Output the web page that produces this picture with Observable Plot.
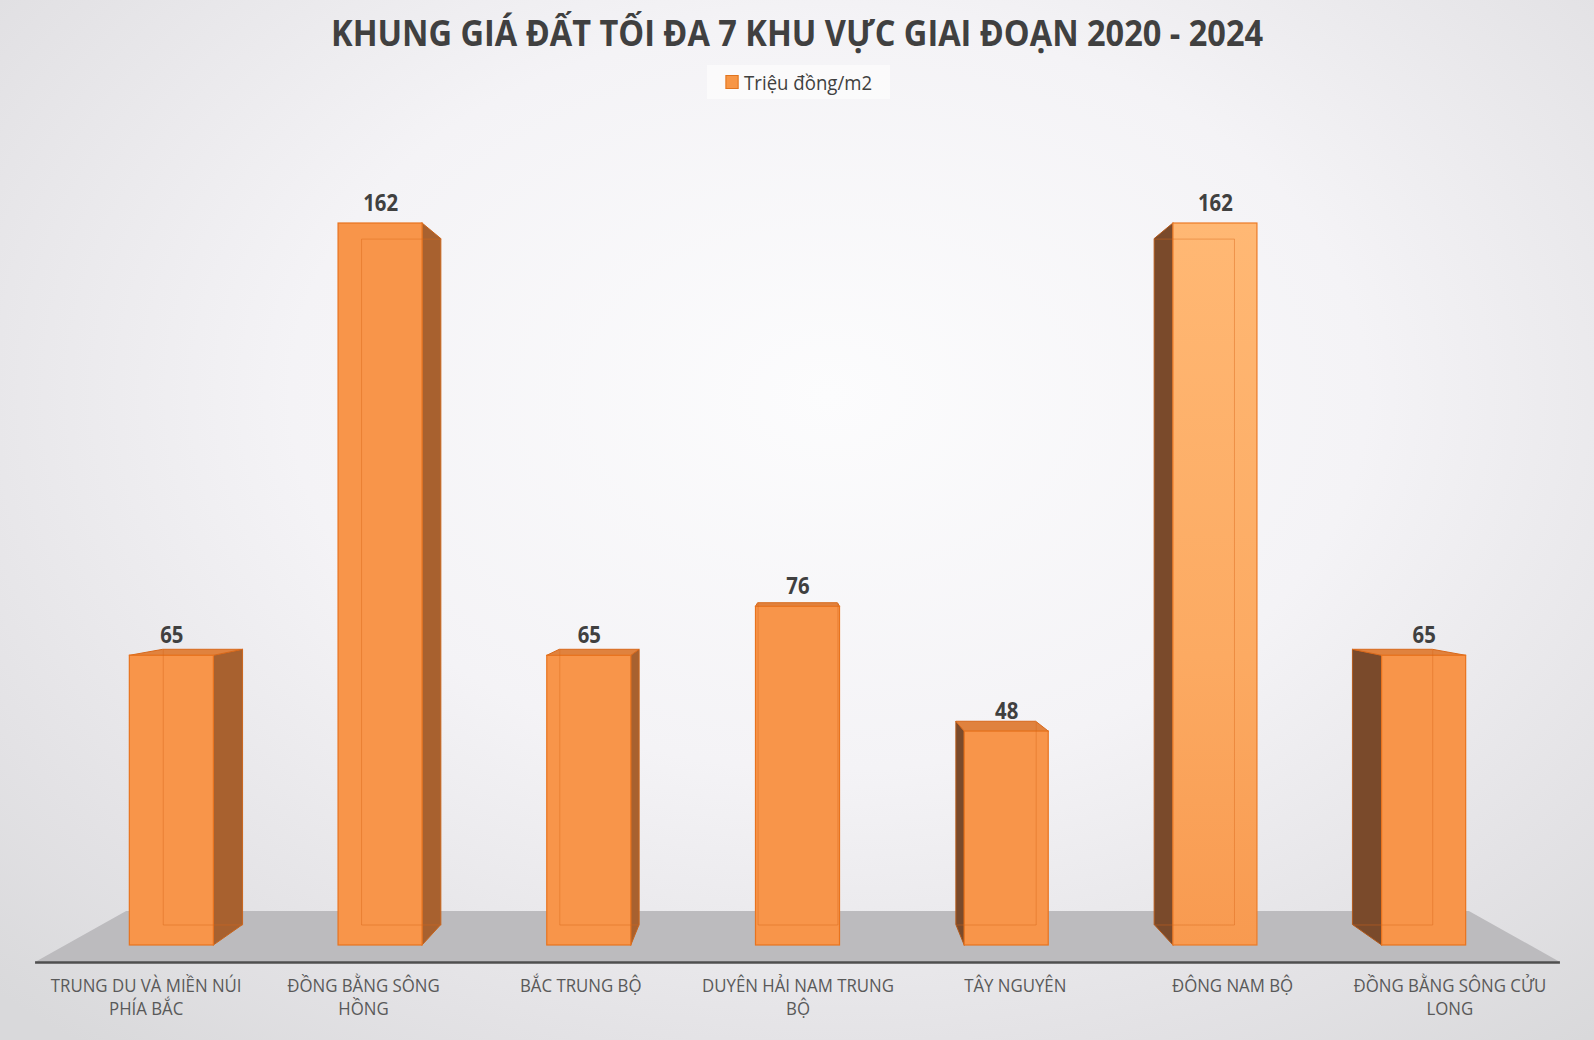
<!DOCTYPE html>
<html lang="vi">
<head>
<meta charset="utf-8">
<script src="https://cdn.jsdelivr.net/npm/d3@7"></script>
<script src="https://cdn.jsdelivr.net/npm/@observablehq/plot@0.6"></script>
<style>
  html, body { margin: 0; padding: 0; width: 1594px; height: 1040px; overflow: hidden; }
  body {
    background: radial-gradient(ellipse 75% 80% at 52% 38%, #fcfcfd 0%, #f4f3f6 45%, #e3e2e5 80%, #d9d9db 100%);
    font-family: "Open Sans", "Noto Sans", sans-serif;
  }
  #header { position: relative; width: 1594px; height: 110px; }
  #title {
    position: absolute; left: 0; top: 11px; width: 100%; text-align: center;
    font-size: 36px; line-height: 44px; font-weight: 700; color: #404040;
    white-space: nowrap;
  }
  #title span { display: inline-block; transform-origin: 50% 50%; }
  #legend {
    position: absolute; left: 707px; top: 65px; width: 183px; height: 34px;
    background: rgba(255,255,255,0.55);
    display: flex; align-items: center; justify-content: center;
  }
  #legend .inner { display: flex; align-items: center; gap: 6px; font-size: 20px; color: #404040; white-space: nowrap; }
  #legend .sw { width: 12px; height: 12px; background: #f79646; border: 1px solid #e0741f; }
  #chart svg { display: block; }
</style>
</head>
<body>
<div id="header">
  <div id="title"><span>KHUNG GIÁ ĐẤT TỐI ĐA 7 KHU VỰC GIAI ĐOẠN 2020 - 2024</span></div>
  <div id="legend"><div class="inner"><span class="sw"></span><span>Triệu đồng/m2</span></div></div>
</div>
<div id="chart"></div>
<script>
// ---- data ----
const categories = [
  "Trung du và miền núi phía Bắc",
  "Đồng bằng sông Hồng",
  "Bắc Trung Bộ",
  "Duyên hải Nam Trung Bộ",
  "Tây Nguyên",
  "Đông Nam Bộ",
  "Đồng bằng sông Cửu Long"
];
const values = [65, 162, 65, 76, 48, 162, 65];
const tickLabels = [
  "TRUNG DU VÀ MIỀN NÚI\nPHÍA BẮC",
  "ĐỒNG BẰNG SÔNG\nHỒNG",
  "BẮC TRUNG BỘ",
  "DUYÊN HẢI NAM TRUNG\nBỘ",
  "TÂY NGUYÊN",
  "ĐÔNG NAM BỘ",
  "ĐỒNG BẰNG SÔNG CỬU\nLONG"
];
const highlight = "Đông Nam Bộ";

// ---- 3D perspective geometry (data units) ----
const n = categories.length;
const HALF = 0.2013;          // half bar width in band units
const VPX = (n - 1) / 2;      // vanishing point x (centre)
const VPY = 92;               // vanishing point y (eye level, value units)
const S = 0.95;               // depth factor of bar back faces
const FS = 0.8806;            // depth factor of the floor
const FLOOR_Y = -3.8;         // floor front edge
const FLOOR_HALF = 3.653;     // floor front half length
const LABEL_SPREAD = 1.041;   // labels projected on floor front edge
const TEXT_SQUEEZE = 0.885;   // narrow letterforms like the reference
const TITLE_SQUEEZE = 0.903;
const LEGEND_SQUEEZE = 0.93;

const bx = x => VPX + (x - VPX) * S;
const by = y => VPY + (y - VPY) * S;

const rows = categories.map((c, i) => ({
  i, cat: c, v: values[i], label: tickLabels[i],
  xl: i - HALF, xr: i + HALF
}));

const floorPts = [
  {y: FLOOR_Y, x1: VPX - FLOOR_HALF, x2: VPX + FLOOR_HALF},
  {y: VPY + (FLOOR_Y - VPY) * FS, x1: VPX - FLOOR_HALF * FS, x2: VPX + FLOOR_HALF * FS}
];

const rightSides = [], leftSides = [], tops = [], edges = [];
for (const r of rows) {
  if (r.i < VPX) {
    rightSides.push({i: r.i, x: r.xr, y1: 0, y2: r.v}, {i: r.i, x: bx(r.xr), y1: by(0), y2: by(r.v)});
  } else if (r.i > VPX) {
    leftSides.push({i: r.i, x: r.xl, y1: 0, y2: r.v}, {i: r.i, x: bx(r.xl), y1: by(0), y2: by(r.v)});
  }
  if (r.v < VPY) {
    tops.push({i: r.i, y: r.v, x1: r.xl, x2: r.xr}, {i: r.i, y: by(r.v), x1: bx(r.xl), x2: bx(r.xr)});
  }
  edges.push({x1: bx(r.xl), y1: by(0), x2: bx(r.xr), y2: by(0)});
  if (r.i <= VPX) edges.push({x1: bx(r.xl), y1: by(0), x2: bx(r.xl), y2: by(r.v)});
  if (r.i >= VPX) edges.push({x1: bx(r.xr), y1: by(0), x2: bx(r.xr), y2: by(r.v)});
  if (r.v > VPY) edges.push({x1: bx(r.xl), y1: by(r.v), x2: bx(r.xr), y2: by(r.v)});
}

const plot = Plot.plot({
  width: 1594,
  height: 930,
  marginLeft: 67,
  marginRight: 66,
  marginTop: 113,
  marginBottom: 95,
  x: {type: "linear", domain: [-0.5, n - 0.5], axis: null},
  y: {type: "linear", domain: [0, 162], axis: null},
  style: {background: "transparent", fontFamily: "'Open Sans', 'Noto Sans', sans-serif", overflow: "visible"},
  marks: [
    Plot.areaX(floorPts, {y: "y", x1: "x1", x2: "x2", fill: "#bcbbbe"}),
    Plot.ruleY([FLOOR_Y], {x1: VPX - FLOOR_HALF, x2: VPX + FLOOR_HALF, stroke: "#4f4f4f", strokeWidth: 2.5}),
    Plot.areaY(rightSides, {x: "x", y1: "y1", y2: "y2", z: "i", fill: "#a8612f", stroke: "#c9651c", strokeWidth: 1}),
    Plot.areaY(leftSides, {x: "x", y1: "y1", y2: "y2", z: "i", fill: "#7a4a2b", stroke: "#b3591a", strokeWidth: 1}),
    Plot.areaX(tops, {y: "y", x1: "x1", x2: "x2", z: "i", fill: "#e0823e", stroke: "#d8691c", strokeWidth: 1}),
    Plot.rectY(rows.filter(d => d.cat !== highlight), {x1: "xl", x2: "xr", y1: 0, y2: "v", fill: "#f8954a", stroke: "#e8731e", strokeWidth: 1.2}),
    Plot.rectY(rows.filter(d => d.cat === highlight), {x1: "xl", x2: "xr", y1: 0, y2: "v", fill: "url(#hlGrad)", stroke: "#ec7a26", strokeWidth: 1.2}),
    Plot.link(edges, {x1: "x1", y1: "y1", x2: "x2", y2: "y2", stroke: "#d9691a", strokeOpacity: 0.45, strokeWidth: 1}),
    Plot.text(rows, {x: "i", y: "v", dy: -20, text: d => String(d.v), fontSize: 23, fontWeight: "bold", fill: "#404040"}),
    Plot.text(rows, {x: d => VPX + (d.i - VPX) * LABEL_SPREAD, y: 0, text: "label", lineAnchor: "top", dy: 29, fontSize: 19, lineHeight: 1.26, fill: "#595959"})
  ]
});

d3.select(plot).insert("defs", ":first-child").html(
  '<linearGradient id="hlGrad" x1="0" y1="0" x2="0" y2="1">' +
  '<stop offset="0" stop-color="#ffb874"/><stop offset="0.6" stop-color="#fcaa62"/><stop offset="1" stop-color="#f89a50"/>' +
  '</linearGradient>'
);
// narrow the glyphs horizontally around each text anchor
d3.select(plot).selectAll("text").attr("transform", function() {
  const t = this.getAttribute("transform") || "";
  return t + ` scale(${TEXT_SQUEEZE},1)`;
});

document.getElementById("chart").appendChild(plot);
document.querySelector("#title span").style.transform = `scaleX(${TITLE_SQUEEZE})`;
document.querySelector("#legend .inner").style.transform = `scaleX(${LEGEND_SQUEEZE})`;
</script>
</body>
</html>
